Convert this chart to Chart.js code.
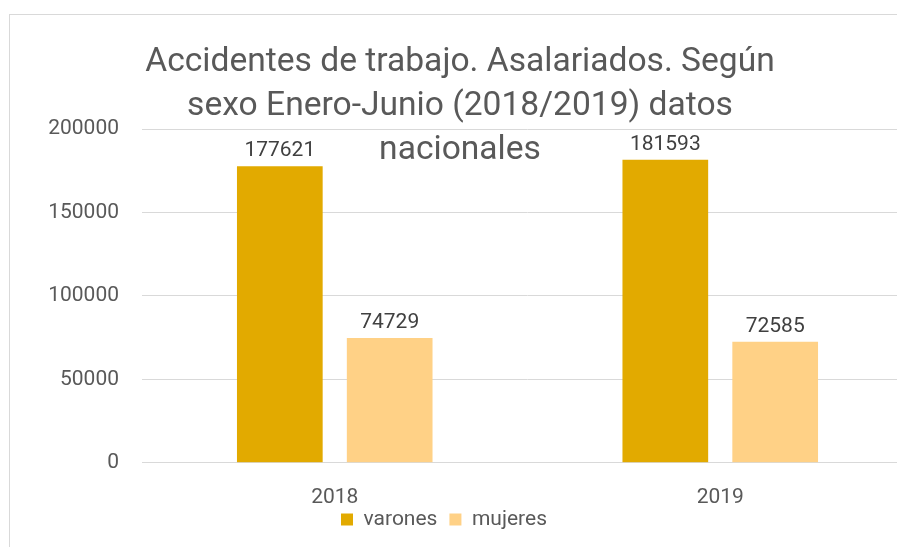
<!DOCTYPE html>
<html>
<head>
<meta charset="utf-8">
<script src="https://cdn.jsdelivr.net/npm/chart.js@4"></script>
<style>
  html, body { margin: 0; padding: 0; background: #fff; overflow: hidden; }
  body { width: 897px; height: 547px; position: relative; }
  #frame { position: absolute; left: 9px; top: 14px; width: 1000px; height: 600px; border: 1px solid #d9d9d9; }
  #wrap { position: absolute; left: -25px; top: 0; width: 938px; height: 567px; }
</style>
</head>
<body>
<div id="frame"></div>
<div id="wrap"><canvas id="chart"></canvas></div>
<script>
const years = ["2018", "2019"];
const varones = [177621, 181593];
const mujeres = [74729, 72585];
const yTicks = [0, 50000, 100000, 150000, 200000];
const titleLines = [
  "Accidentes de trabajo. Asalariados. Según",
  "sexo Enero-Junio (2018/2019) datos",
  "nacionales"
];

const FONT = "Roboto, 'Liberation Sans', sans-serif";

// title sits over the plot area, like in the original
const titlePlugin = {
  id: "overTitle",
  afterDraw(chart) {
    const ctx = chart.ctx;
    ctx.save();
    ctx.font = "33.6px " + FONT;
    ctx.fillStyle = "#595959";
    ctx.textAlign = "center";
    ctx.textBaseline = "alphabetic";
    titleLines.forEach((t, i) => ctx.fillText(t, 485, 71 + i * 44));
    ctx.restore();
  },
};

// value labels above bars
const valuePlugin = {
  id: "values",
  afterDatasetsDraw(chart) {
    const ctx = chart.ctx;
    ctx.save();
    ctx.font = "21px " + FONT;
    ctx.fillStyle = "#404040";
    ctx.textAlign = "center";
    ctx.textBaseline = "alphabetic";
    chart.data.datasets.forEach((ds, i) => {
      chart.getDatasetMeta(i).data.forEach((bar, j) => {
        ctx.fillText(ds.data[j], bar.x, bar.y - 10);
      });
    });
    ctx.restore();
  },
};

// legend sits tight under the year labels
const legendShift = {
  id: "legendShift",
  afterLayout(chart) {
    chart.legend.top -= 27;
    chart.legend.bottom -= 27;
  },
};

new Chart(document.getElementById("chart"), {
  type: "bar",
  data: {
    labels: years,
    datasets: [
      {
        label: "varones",
        data: varones,
        backgroundColor: "#e2aa00",
        categoryPercentage: 0.57,
        barPercentage: 0.78,
      },
      {
        label: "mujeres",
        data: mujeres,
        backgroundColor: "#ffd186",
        categoryPercentage: 0.57,
        barPercentage: 0.78,
      },
    ],
  },
  options: {
    responsive: true,
    maintainAspectRatio: false,
    animation: false,
    layout: { padding: { top: 129, left: 0, right: 0, bottom: 0 } },
    scales: {
      y: {
        min: yTicks[0],
        max: yTicks[yTicks.length - 1],
        afterFit: (scale) => {
          scale.width = 167;
        },
        afterBuildTicks: (scale) => {
          scale.ticks = yTicks.map((v) => ({ value: v }));
        },
        ticks: {
          padding: 23,
          color: "#595959",
          format: { useGrouping: false },
          font: { family: FONT, size: 21 },
        },
        grid: { color: "#d9d9d9", drawTicks: false },
        border: { display: false },
      },
      x: {
        ticks: {
          padding: 14,
          color: "#595959",
          font: { family: FONT, size: 21 },
        },
        grid: { display: false },
        border: { color: "#d9d9d9" },
      },
    },
    plugins: {
      legend: {
        position: "bottom",
        labels: {
          boxWidth: 12,
          boxHeight: 12,
          padding: 12,
          color: "#595959",
          font: { family: FONT, size: 21 },
        },
      },
      tooltip: { enabled: false },
    },
  },
  plugins: [titlePlugin, valuePlugin, legendShift],
});
</script>
</body>
</html>
